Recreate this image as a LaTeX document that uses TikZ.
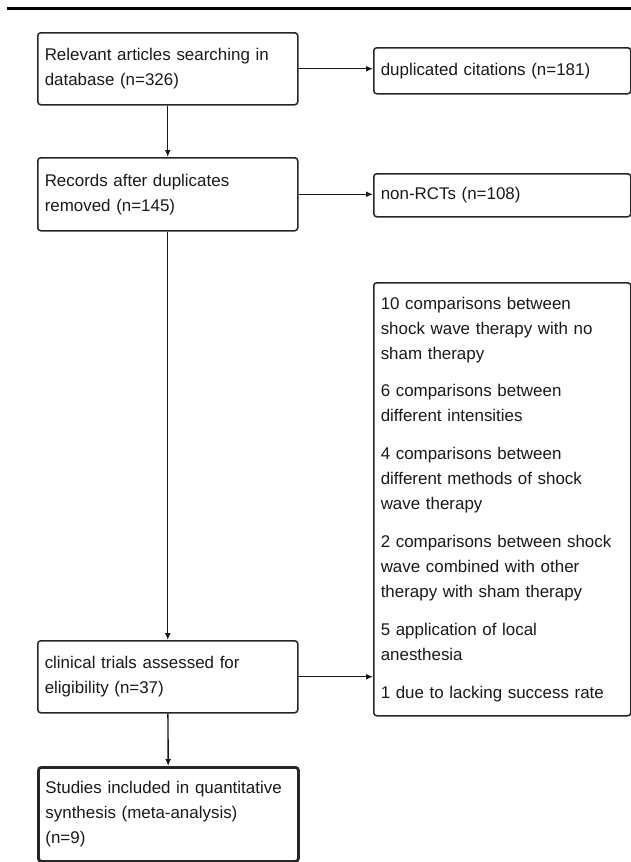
\documentclass[tikz,border=0pt]{standalone}
\usepackage{fontspec}
\setmainfont{Liberation Sans}
\usetikzlibrary{arrows.meta}

\tikzset{
  flowbox/.style={draw=black!85, line width=1.5bp, rounded corners=3bp, anchor=north west,
    align=left, text width=246bp, inner xsep=7bp, inner ysep=0bp,
    font=\fontsize{17}{25}\selectfont, text=black!90},
  sidebox/.style={flowbox, text width=243bp},
  flowarrow/.style={draw=black!90, line width=1.4bp, -{Latex[length=7bp,width=6bp]}}
}

\begin{document}
\begin{tikzpicture}[x=1bp, y=-1bp]
\useasboundingbox (0,0) rectangle (631,862);

% rule at the top
\draw[line width=3bp] (7,8) -- (631,8);

% main column
\node[flowbox, minimum height=72bp] (search) at (37,32) {Relevant articles searching in\\database (n=326)};
\node[flowbox, minimum height=73bp] (records) at (37,157) {Records after duplicates\\removed (n=145)};
\node[flowbox, minimum height=72bp] (eligible) at (37,640) {clinical trials assessed for\\eligibility (n=37)};
\node[flowbox, minimum height=94bp, line width=2.8bp] (included) at (37,766) {Studies included in quantitative\\synthesis (meta-analysis)\\(n=9)};

% exclusions
\node[sidebox, minimum height=433bp] (excluded) at (373,282) {10 comparisons between\\shock wave therapy with no\\sham therapy\\[13bp]
6 comparisons between\\different intensities\\[13bp]
4 comparisons between\\different methods of shock\\wave therapy\\[13bp]
2 comparisons between shock\\wave combined with other\\therapy with sham therapy\\[13bp]
5 application of local\\anesthesia\\[13bp]
1 due to lacking success rate\\[-8bp]};
\node[sidebox, minimum height=46bp] (dup) at (373,47) {duplicated citations (n=181)};
\node[sidebox, minimum height=43bp] (nonrct) at (373,173) {non-RCTs (n=108)};

% connectors
\draw[flowarrow] (search) -- (records);
\draw[flowarrow] (records) -- (eligible);
\draw[flowarrow] (eligible) -- (included);
\draw[flowarrow] (search.east) -- (search.east -| dup.west);
\draw[flowarrow] (records.east) -- (records.east -| nonrct.west);
\draw[flowarrow] (eligible.east) -- (eligible.east -| excluded.west);

\end{tikzpicture}
\end{document}
